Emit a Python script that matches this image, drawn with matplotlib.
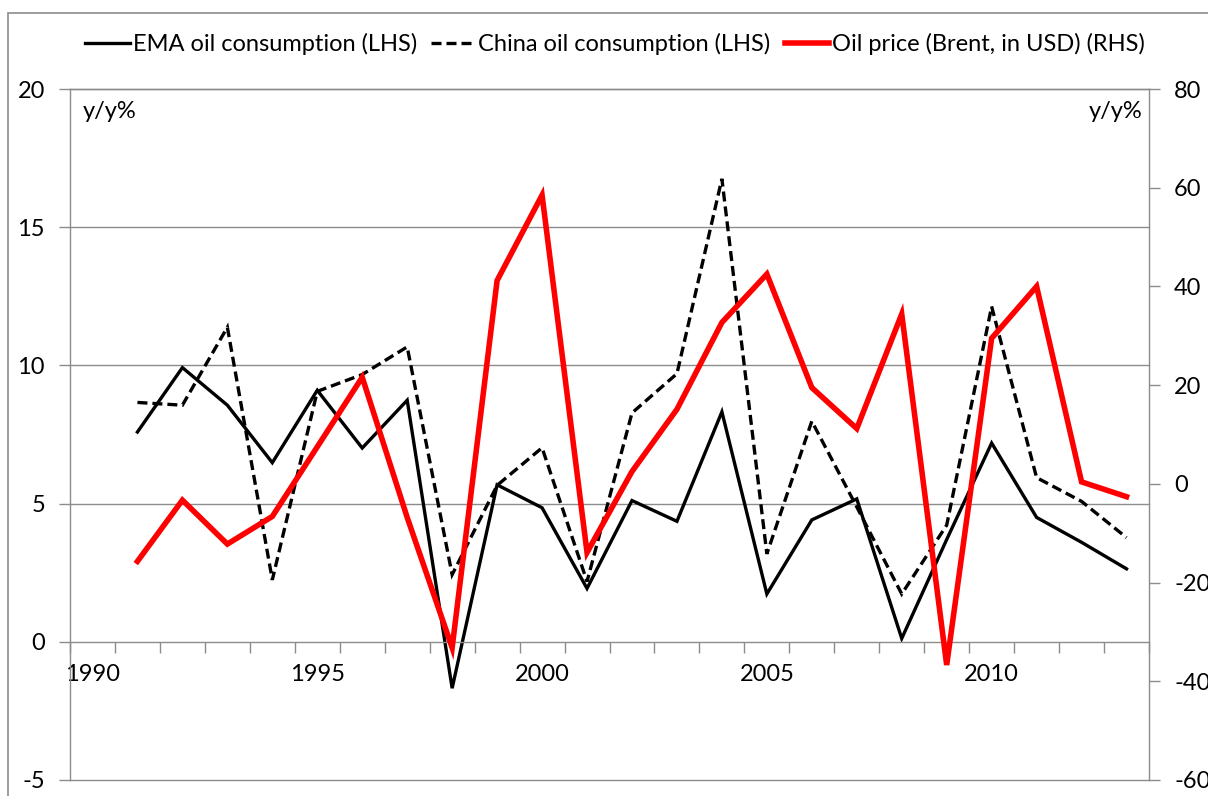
import matplotlib

matplotlib.use("Agg")
import matplotlib.pyplot as plt
from matplotlib.patches import Rectangle
import numpy as np

plt.rcParams["font.family"] = ["Lato", "DejaVu Sans"]
plt.rcParams["font.size"] = 17
plt.rcParams["axes.unicode_minus"] = False

years = list(range(1991, 2014))
ema_oil = [7.59, 9.92, 8.56, 6.48, 9.1, 7.01, 8.74, -1.68, 5.68, 4.85, 1.93, 5.11,
           4.36, 8.32, 1.73, 4.41, 5.17, 0.12, 3.7, 7.19, 4.5, 3.6, 2.64]
china_oil = [8.66, 8.56, 11.38, 2.24, 9.06, 9.67, 10.67, 2.43, 5.66, 7.02, 2.18, 8.28,
             9.7, 16.75, 3.18, 7.98, 4.88, 1.73, 4.22, 12.13, 5.94, 5.08, 3.77]
oil_price = [-15.7, -3.3, -12.2, -6.6, 7.5, 21.6, -6.8, -33.2, 41.2, 58.5, -13.9, 2.5,
             15.1, 32.7, 42.5, 19.5, 11.2, 34.4, -36.7, 29.5, 40.0, 0.4, -2.6]

left_ticks = [-5, 0, 5, 10, 15, 20]
right_ticks = [-60, -40, -20, 0, 20, 40, 60, 80]
label_years = [1990, 1995, 2000, 2005, 2010]

grey = "#8c8c8c"

fig = plt.figure(figsize=(12.08, 7.96), dpi=100)
ax = fig.add_axes([70 / 1208, 16 / 796, 1079 / 1208, 691 / 796])
ax2 = ax.twinx()

# horizontal gridlines, drawn by hand so the edge ones are not clipped
for v in left_ticks:
    if v != 0:
        ax.axhline(v, color=grey, lw=1.0, clip_on=False, zorder=0)

l1, = ax.plot(years, ema_oil, color="black", lw=2.4, solid_joinstyle="miter")
l2, = ax.plot(years, china_oil, color="black", lw=2.4, dashes=(3.0, 1.5),
              dash_joinstyle="miter")
l3, = ax2.plot(years, oil_price, color="#ff0000", lw=4.0, solid_joinstyle="miter")

ax.set_xlim(1989.5, 2013.5)
ax.set_ylim(-5, 20)
ax2.set_ylim(-60, 80)

ax.set_yticks(left_ticks)
ax2.set_yticks(right_ticks)

ax.set_xticks(label_years, [str(y) for y in label_years])
ax.set_xticks(np.arange(1989.5, 2014, 1), minor=True)
ax.tick_params(axis="x", which="major", length=0, pad=16)
ax.tick_params(axis="x", which="minor", length=8, width=1.0, color=grey, direction="out")
ax.tick_params(axis="y", length=8, width=1.0, color=grey, pad=10)
ax2.tick_params(axis="y", length=8, width=1.0, color=grey, pad=10)

ax.spines["bottom"].set_position(("data", 0))
for sp in ["left", "bottom", "top"]:
    ax.spines[sp].set_color(grey)
    ax.spines[sp].set_linewidth(1.0)
ax.spines["right"].set_visible(False)
for sp in ["left", "bottom", "top"]:
    ax2.spines[sp].set_visible(False)
ax2.spines["right"].set_color(grey)
ax2.spines["right"].set_linewidth(1.0)

ax.text(0.012, 0.967, "y/y%", transform=ax.transAxes, ha="left", va="center")
ax.text(0.9944, 0.967, "y/y%", transform=ax.transAxes, ha="right", va="center")

fig.legend([l1, l2, l3],
           ["EMA oil consumption (LHS)", "China oil consumption (LHS)",
            "Oil price (Brent, in USD) (RHS)"],
           loc="center", bbox_to_anchor=(615 / 1208, 1 - 44 / 796), ncol=3,
           frameon=False, handlelength=1.9, handletextpad=0.1, columnspacing=0.6,
           borderaxespad=0)

fig.patches.append(Rectangle((8 / 1208, -0.1), 1.2, 1.1 - 13 / 796,
                             transform=fig.transFigure, fill=False,
                             edgecolor=grey, lw=1.2))

fig.savefig("out.png", dpi=100)
